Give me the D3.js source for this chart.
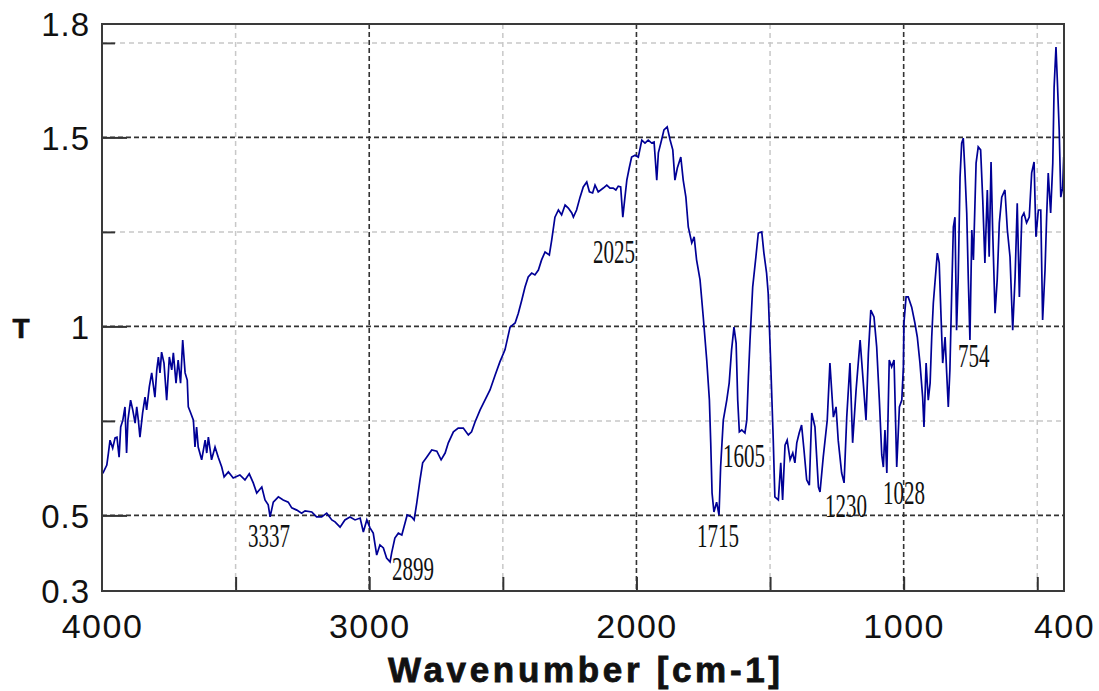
<!DOCTYPE html>
<html><head><meta charset="utf-8">
<script src="https://cdn.jsdelivr.net/npm/d3@7"></script>
<style>body{margin:0;background:#fff} svg{display:block}</style>
</head><body>
<script>
const wavenumber = [3997,3982,3976,3970,3960,3951,3944,3936,3930,3922,3914,3908,3903,3893,3885,3876,3870,3864,3858,3848,3839,3833,3823,3814,3802,3795,3789,3783,3777,3768,3758,3748,3739,3733,3723,3715,3706,3698,3689,3681,3677,3668,3658,3652,3646,3640,3627,3614,3608,3602,3590,3577,3565,3552,3543,3527,3509,3484,3465,3449,3434,3421,3402,3390,3378,3371,3359,3340,3322,3303,3290,3271,3253,3240,3215,3197,3178,3159,3140,3128,3109,3091,3072,
3053,3034,3022,3009,2997,2985,2972,2960,2947,2935,2922,2916,2904,2891,2878,2866,2858,2841,2832,2822,2810,2800,2785,2766,2747,2731,2716,2704,2685,2667,2648,2629,2617,2604,2585,2548,2529,2511,2492,2473,2454,2442,2429,2417,2405,2392,2380,2367,2355,2342,2326,2317,2305,2292,2280,2267,2255,2242,2236,2224,2211,2199,2186,2176,2164,2155,2143,2124,2111,2099,2087,2077,2068,2059,2051,2043,2036,2027,2018,2005,1993,
1980,1968,1956,1943,1934,1924,1918,1906,1897,1885,1874,1864,1856,1847,1834,1825,1815,1806,1793,1784,1775,1762,1750,1737,1727,1722,1717,1710,1700,1691,1685,1675,1662,1653,1644,1635,1627,1621,1615,1606,1594,1587,1581,1575,1565,1553,1544,1531,1523,1513,1507,1498,1488,1482,1469,1460,1453,1444,1436,1425,1415,1407,1400,1391,1382,1373,1363,1353,1344,1332,1319,1313,1301,1286,1276,1263,1253,1245,1232,1223,1213,1201,1191,1178,1163,1151,1141,1132,1123,1111,1101,1091,1082,1076,1070,1063,1054,1045,1036,1026,1016,1007,1001,999,991,983,970,958,949,939,929,924,916,908,901,895,889,883,874,867,861,854,845,839,833,827,820,814,808,802,796,789,783,777,771,764,758,752,745,739,729,721,712,704,696,687,680,673,667,658,650,642,633,621,612,602,592,583,575,567,558,550,540,530,521,512,505,496,487,480,471,465,459,450,442,437,430,425,418,412,405,401,400];

const transmittance = [0.611,0.633,0.665,0.699,0.678,0.705,0.707,0.654,0.734,0.752,0.787,0.665,0.752,0.805,0.779,0.744,0.787,0.752,0.707,0.771,0.813,0.779,0.840,0.877,0.813,0.885,0.919,0.877,0.932,0.903,0.805,0.919,0.885,0.930,0.850,0.911,0.850,0.964,0.877,0.858,0.787,0.771,0.752,0.681,0.734,0.681,0.647,0.699,0.665,0.707,0.647,0.681,0.654,0.628,0.602,0.615,0.599,0.607,0.594,0.610,0.586,0.559,0.575,0.541,0.528,0.496,0.535,0.549,0.541,0.535,0.520,0.514,0.506,0.512,0.509,0.496,0.496,0.506,0.488,0.483,0.469,0.488,0.496,
0.488,0.493,0.456,0.488,0.467,0.453,0.395,0.422,0.414,0.387,0.377,0.401,0.440,0.453,0.448,0.480,0.501,0.496,0.488,0.533,0.594,0.639,0.654,0.673,0.670,0.647,0.665,0.692,0.721,0.731,0.731,0.713,0.721,0.747,0.779,0.832,0.871,0.906,0.938,0.998,1.009,1.035,1.070,1.104,1.131,1.141,1.136,1.149,1.176,1.197,1.189,1.229,1.289,1.308,1.295,1.321,1.313,1.300,1.289,1.308,1.342,1.369,1.382,1.356,1.353,1.374,1.356,1.366,1.374,1.366,1.366,1.361,1.371,1.369,1.289,1.342,1.387,1.419,1.448,1.453,1.448,
1.493,1.485,1.493,1.485,1.488,1.387,1.459,1.493,1.520,1.528,1.493,1.467,1.387,1.419,1.448,1.387,1.342,1.263,1.221,1.237,1.176,1.123,1.025,0.911,0.805,0.692,0.559,0.509,0.535,0.501,0.628,0.752,0.805,0.850,0.938,0.998,0.956,0.805,0.721,0.726,0.718,0.752,0.866,0.964,1.104,1.184,1.247,1.250,1.194,1.141,1.088,0.911,0.699,0.549,0.541,0.639,0.541,0.686,0.699,0.647,0.665,0.639,0.692,0.718,0.739,0.673,0.594,0.580,0.771,0.734,0.575,0.562,0.654,0.752,0.903,0.760,0.787,0.699,0.612,0.586,0.760,0.903,0.692,0.832,0.964,0.850,0.752,0.930,1.043,1.025,0.946,0.805,0.660,0.628,0.726,0.612,0.911,0.893,0.911,0.628,0.787,0.805,0.893,1.009,1.078,1.078,1.051,1.009,0.972,0.903,0.813,0.734,0.903,0.805,0.850,0.972,1.062,1.115,1.194,1.168,1.043,0.903,0.972,0.877,0.787,0.885,1.096,1.263,1.289,0.990,1.123,1.395,1.485,1.498,1.414,1.300,1.123,0.964,1.255,1.176,1.432,1.475,1.467,1.334,1.168,1.361,1.184,1.435,1.255,1.035,1.123,1.274,1.342,1.361,1.255,1.184,0.990,1.131,1.326,1.078,1.289,1.300,1.274,1.289,1.406,1.435,1.237,1.308,1.308,1.017,1.149,1.289,1.406,1.300,1.432,1.633,1.739,1.652,1.520,1.342,1.369,1.448,1.100];

const yTickLabels = [0.3, 0.5, 1, 1.5, 1.8];
const yMajorGrid = [0.5, 1, 1.5];
const yMinorGrid = [0.75, 1.25, 1.75];
const xTickLabels = [4000, 3000, 2000, 1000, 400];
const xMajorGrid = [3000, 2000, 1000];
const xMinorGrid = [3500, 2500, 1500, 500];
const xTicks = [3500, 3000, 2500, 2000, 1500, 1000, 500];
const peakLabels = ["3337", "2899", "2025", "1715", "1605", "1230", "1028", "754"];
const peakLabelWn = [3454, 2915, 2163, 1773, 1676, 1294, 1077, 797];
const peakLabelT = [0.416, 0.329, 1.168, 0.416, 0.628, 0.496, 0.530, 0.893];
const xTitle = "Wavenumber [cm-1]";
const yTitle = "T";

const W = 1099, H = 691;
const L = 102, R = 1064, T = 24, B = 591;
const x = d3.scaleLinear().domain([4000, 400]).range([L, R]);
const y = d3.scaleLinear().domain([0.3, 1.8]).range([B, T]);

const svg = d3.select("body").append("svg").attr("width", W).attr("height", H);
svg.append("rect").attr("width", W).attr("height", H).attr("fill", "#fff");

const sans = "'Liberation Sans', Arial, sans-serif";

// light grid
svg.append("g").selectAll("line").data(yMinorGrid).join("line")
  .attr("x1", L).attr("x2", R).attr("y1", d => y(d)).attr("y2", d => y(d))
  .attr("stroke", "#c8c8c8").attr("stroke-width", 1.5).attr("stroke-dasharray", "5,4");
svg.append("g").selectAll("line").data(xMinorGrid).join("line")
  .attr("y1", T).attr("y2", B).attr("x1", d => x(d)).attr("x2", d => x(d))
  .attr("stroke", "#c8c8c8").attr("stroke-width", 1.5).attr("stroke-dasharray", "5,4");
// dark grid
svg.append("g").selectAll("line").data(yMajorGrid).join("line")
  .attr("x1", L).attr("x2", R).attr("y1", d => y(d)).attr("y2", d => y(d))
  .attr("stroke", "#333").attr("stroke-width", 1.6).attr("stroke-dasharray", "5,3");
svg.append("g").selectAll("line").data(xMajorGrid).join("line")
  .attr("y1", T).attr("y2", B).attr("x1", d => x(d)).attr("x2", d => x(d))
  .attr("stroke", "#333").attr("stroke-width", 1.6).attr("stroke-dasharray", "5,3");

// spectrum
const data = wavenumber.map((w, i) => ({w, t: transmittance[i]}));
svg.append("defs").append("clipPath").attr("id", "clip").append("rect")
  .attr("x", L).attr("y", T).attr("width", R - L).attr("height", B - T);
svg.append("path").datum(data)
  .attr("clip-path", "url(#clip)")
  .attr("fill", "none").attr("stroke", "#000096").attr("stroke-width", 1.7)
  .attr("stroke-linejoin", "miter")
  .attr("d", d3.line().x(d => x(d.w)).y(d => y(d.t)));

// ticks
const gMaj = svg.append("g").attr("transform", `translate(${L},0)`)
  .call(d3.axisRight(y).tickValues(yMajorGrid).tickSize(25).tickFormat(""));
const gMin = svg.append("g").attr("transform", `translate(${L},0)`)
  .call(d3.axisRight(y).tickValues(yMinorGrid).tickSize(13).tickFormat(""));
const gXt = svg.append("g").attr("transform", `translate(0,${B})`)
  .call(d3.axisTop(x).tickValues(xTicks).tickSize(14).tickFormat(""));
[gMaj, gMin, gXt].forEach(g => {
  g.select(".domain").remove();
  g.selectAll("line").attr("stroke", "#333").attr("stroke-width", 2);
});

// frame
svg.append("rect").attr("x", L).attr("y", T).attr("width", R - L).attr("height", B - T)
  .attr("fill", "none").attr("stroke", "#3a3a3a").attr("stroke-width", 2);

// tick labels
const gyl = svg.append("g").attr("transform", `translate(${L},0)`)
  .call(d3.axisLeft(y).tickValues(yTickLabels).tickSize(0).tickPadding(12).tickFormat(d3.format("")));
gyl.select(".domain").remove();
gyl.selectAll("text").attr("font-family", sans).attr("font-size", 33).attr("fill", "#111")
  .attr("letter-spacing", 1).attr("dy", "0.36em");

const gxl = svg.append("g").attr("transform", `translate(0,${B})`)
  .call(d3.axisBottom(x).tickValues(xTickLabels).tickSize(0).tickFormat(d3.format("")));
gxl.select(".domain").remove();
gxl.selectAll("text").attr("font-family", sans).attr("font-size", 34).attr("fill", "#111")
  .attr("letter-spacing", 1.5).attr("dy", null).attr("y", 47);

// titles
svg.append("text").attr("x", 584).attr("y", 682).attr("text-anchor", "middle")
  .attr("font-family", sans).attr("font-weight", "bold").attr("font-size", 35)
  .attr("stroke", "#111").attr("stroke-width", 0.8)
  .attr("textLength", 392).attr("lengthAdjust", "spacing").attr("fill", "#111").text(xTitle);
svg.append("text").attr("x", 21).attr("y", 338).attr("text-anchor", "middle")
  .attr("font-family", sans).attr("font-weight", "bold").attr("font-size", 28)
  .attr("stroke", "#111").attr("stroke-width", 0.6)
  .attr("fill", "#111").text(yTitle);

// peak labels
svg.append("g").selectAll("text").data(peakLabels).join("text")
  .attr("x", (d, i) => x(peakLabelWn[i])).attr("y", (d, i) => y(peakLabelT[i]))
  .attr("font-family", "'Liberation Serif', 'Times New Roman', serif")
  .attr("font-size", 33).attr("fill", "#111")
  .attr("textLength", d => d.length * 10.5).attr("lengthAdjust", "spacingAndGlyphs")
  .text(d => d);
</script>
</body></html>
